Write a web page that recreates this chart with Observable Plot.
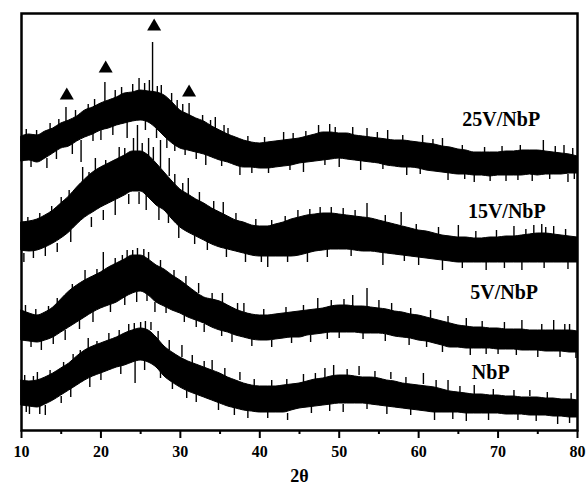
<!DOCTYPE html>
<html><head><meta charset="utf-8">
<script src="https://cdn.jsdelivr.net/npm/d3@7"></script>
<script src="https://cdn.jsdelivr.net/npm/@observablehq/plot@0.6"></script>
<style>body{margin:0;background:#fff}</style>
</head><body><div id="chart"></div>
<script>
// 2θ sample positions (degrees)
const theta = [10,11,12,13,14,15,16,17,18,19,20,21,22,23,24,25,26,27,28,29,30,31,32,33,34,35,36,37,38,39,40,41,42,43,44,45,46,47,48,49,50,51,52,53,54,55,56,57,58,59,60,61,62,63,64,65,66,67,68,69,70,71,72,73,74,75,76,77,78,79,80];

// upper / lower envelope of each (offset) trace, arbitrary intensity units
const s25Upper = [294,296,295,299,302,307,310,314,320,323, 327,330,333,337,338,340,339,338,335,328, 320,316,312,309,304,300,296,293,290,288, 287,288,289,290,291,292,294,296,298,298, 297,297,295,294,293,292,291,290,290,289, 288,287,286,284,283,281,280,278,278,278, 278,279,279,280,280,280,279,278,277,276,274];
const s25Lower = [269,270,268,272,277,282,284,289,293,296, 300,302,305,307,309,310,308,302,294,287, 282,280,278,276,273,270,268,265,263,263, 262,262,263,264,265,267,268,269,270,271, 272,271,270,269,268,267,265,264,263,263, 262,260,259,258,257,256,256,255,255,254, 255,255,255,255,256,255,256,256,256,257,257];
const s15Upper = [208,209,211,215,220,227,234,243,251,258, 263,267,271,275,279,279,275,267,258,249, 241,236,231,227,222,218,214,210,208,205, 204,204,206,208,211,213,215,216,217,217, 216,215,214,213,212,210,208,206,204,202, 200,199,197,195,194,193,193,192,192,193, 193,194,194,195,196,197,197,196,195,194,193];
const s15Lower = [180,179,180,183,187,192,198,206,213,218, 223,227,231,235,239,239,233,225,220,211, 203,198,194,190,186,183,181,179,177,175, 174,174,174,174,174,175,177,179,180,181, 181,181,180,179,179,178,177,176,175,174, 173,172,171,170,169,168,168,168,168,168, 168,168,168,168,168,168,168,168,168,168,168];
const s5Upper = [120,117,115,118,123,131,139,145,150,154, 158,163,167,171,175,175,171,165,161,155, 150,144,138,133,131,129,125,121,118,116, 115,115,116,117,118,119,120,121,122,124, 125,125,124,124,123,122,121,119,118,116, 115,113,111,109,107,105,104,103,103,102, 102,101,101,101,100,100,100,100,100,100,99];
const s5Lower = [90,89,88,90,93,98,103,108,113,118, 122,125,128,133,137,139,135,128,124,120, 117,113,110,107,103,100,98,95,93,91, 90,90,91,92,93,93,95,96,97,98, 98,98,98,97,97,97,96,94,93,92, 90,89,87,85,83,83,82,82,82,82, 81,81,81,80,80,80,79,79,79,78,78];
const sNbPUpper = [50,49,50,53,57,62,67,74,80,84, 87,90,93,97,100,102,100,93,84,78, 73,69,66,63,60,57,53,50,47,45, 44,44,44,45,46,47,49,51,52,54, 55,55,54,53,53,52,50,49,47,46, 45,44,43,41,39,38,37,36,36,35, 35,34,34,33,33,33,32,32,31,31,30];
const sNbPLower = [25,24,23,26,30,35,40,45,50,54, 57,60,63,65,68,70,68,63,54,48, 43,39,36,33,30,27,24,22,20,19, 18,18,18,18,20,22,23,24,25,26, 27,27,27,27,26,25,24,23,22,21, 20,19,18,18,18,18,17,17,17,17, 17,16,16,16,15,15,15,14,14,13,13];

// individual noise spikes: [2θ, from, to]
const spikes25 = [[15.6,300,323],[18.4,312,326],[20.5,322,348],[21.8,328,340],[24.0,332,346],[24.8,335,352],[26.5,335,388],[27.6,332,345],[28.9,325,337],[29.6,318,330],[31.1,312,327],[32.8,306,315],[34.4,300,313],[36.0,292,302],[43.0,288,298],[47.4,294,305],[48.8,296,306],[51.7,294,303],[53.5,292,302],[56.1,290,300],[60.5,286,295],[63.0,283,292],[75.7,278,290],[78.3,275,285],
  [13.2,272,262],[17.5,290,268],[20.0,303,290],[23.3,308,292],[28.3,296,282],[30.6,284,275],[33.2,276,265],[37.5,265,255],[41.1,263,257],[45.5,268,258],[50.0,272,263],[52.7,270,260],[58.5,264,255],[63.7,258,250],[67.0,256,248],[71.0,256,249],[74.3,257,249],[78.8,256,248],
  [10.6,293,301],[11.9,292,300],[13.6,298,307],[14.7,302,311],[16.8,309,320],[19.2,320,331],[22.6,333,343],[25.5,336,347],[26.1,335,350],[27.1,334,344],[30.3,316,326],[33.8,302,310],[35.5,296,305],[38.5,286,294],[40.6,284,293],[44.2,288,297],[45.8,290,299],[49.5,295,303],[54.8,289,298],[58.0,287,295],[61.8,283,291],[65.5,277,285],[68.3,275,283],[70.5,275,284],[72.8,276,285],[77.2,275,284],[79.4,273,282],
  [11.2,273,263],[14.4,280,271],[16.4,287,276],[19.0,299,289],[21.5,305,295],[25.6,312,300],[27.0,305,292],[29.3,290,279],[32.0,281,271],[35.2,273,264],[39.0,266,257],[43.8,268,260],[48.2,273,265],[55.5,270,261],[60.2,265,256],[65.8,259,251],[69.0,257,249],[72.5,258,250],[76.5,259,251],[79.6,260,251]];
const spikes15 = [[13.8,212,224],[16.0,228,240],[17.7,243,263],[19.3,256,272],[22.3,268,283],[24.1,276,292],[24.6,276,305],[26.0,272,292],[27.5,262,290],[28.6,254,272],[31.0,234,252],[35.4,216,228],[44.8,210,220],[47.6,214,223],[50.5,214,222],[53.5,212,227],[57.8,205,218],[65.0,192,205],[72.0,192,204],[74.5,194,205],[75.5,195,206],[77.0,195,204],
  [11.5,182,172],[13.0,184,174],[16.2,200,188],[21.8,232,215],[25.7,240,220],[27.3,226,210],[29.8,212,192],[33.4,192,180],[38.2,180,168],[41.0,176,163],[46.0,180,168],[55.5,180,165],[60.0,175,165],[63.0,172,160],[68.5,170,160],[73.0,168,160],
  [10.8,205,213],[12.3,208,217],[15.0,224,233],[18.5,248,258],[20.6,260,270],[23.0,272,282],[25.2,276,287],[26.6,270,283],[29.3,245,256],[30.3,238,247],[32.4,228,238],[34.2,219,229],[37.0,207,217],[39.5,202,211],[41.5,201,210],[43.2,205,214],[46.3,212,221],[49.0,214,223],[52.0,211,220],[55.8,206,215],[59.7,197,206],[62.5,194,203],[67.2,190,199],[69.8,190,200],[73.5,192,201],[76.0,194,203],[78.5,192,201],
  [10.3,177,168],[14.5,187,178],[18.8,213,203],[20.3,220,210],[23.5,236,226],[24.8,238,226],[28.5,217,207],[31.8,196,186],[35.8,182,173],[40.2,177,168],[43.5,177,168],[48.5,183,173],[51.5,183,174],[58.2,178,169],[65.5,171,162],[70.8,171,162],[75.8,171,162],[78.8,171,161]];
const spikes5 = [[14.5,122,132],[18.0,148,160],[20.3,157,178],[21.8,165,172],[23.3,168,180],[24.0,172,180],[26.0,170,178],[29.2,152,160],[32.3,137,147],[35.3,127,137],[38.0,118,127],[47.3,120,132],[51.7,124,135],[53.5,122,142],[55.0,120,130],[61.5,112,120],[66.0,103,112],[73.0,100,110],[77.0,99,110],[79.0,99,106],
  [12.5,90,80],[15.5,100,90],[19.0,118,108],[24.5,138,128],[26.8,128,118],[30.5,118,108],[33.0,106,98],[36.5,97,88],[41.5,90,83],[46.4,95,88],[50.0,99,92],[55.8,96,89],[58.8,93,85],[63.0,85,78],[66.5,82,75],[70.0,82,76],[75.0,80,73],
  [10.5,117,125],[11.8,113,121],[13.4,115,124],[16.4,136,146],[19.5,151,161],[22.7,165,175],[24.6,172,182],[25.4,172,181],[27.5,160,170],[30.7,144,154],[34.0,128,137],[37.2,118,127],[40.5,112,121],[43.3,114,123],[45.5,116,125],[49.0,121,130],[50.6,122,131],[56.6,118,127],[59.0,113,122],[63.7,104,114],[68.0,100,109],[70.8,99,108],[75.5,97,106],[78.4,97,106],
  [11.2,92,83],[14.0,95,86],[17.3,111,101],[21.2,128,118],[23.0,136,125],[25.8,140,129],[28.2,127,117],[32.0,113,103],[35.2,103,94],[39.0,93,84],[44.0,96,87],[48.5,100,91],[53.0,100,91],[61.0,92,83],[68.5,85,76],[72.3,84,75],[77.8,82,73],[79.8,81,72]];
const spikesNbP = [[12.0,50,58],[16.5,67,76],[18.4,81,92],[21.0,90,97],[23.5,97,106],[25.0,100,108],[26.3,100,108],[30.2,73,85],[34.0,60,70],[37.5,50,58],[45.5,47,56],[48.2,52,62],[49.3,53,65],[52.5,55,64],[56.5,51,58],[60.6,46,57],[63.7,40,50],[67.0,36,45],[74.0,34,40],
  [11.0,24,16],[13.0,25,15],[15.0,34,27],[20.0,58,50],[24.3,69,47],[27.5,60,52],[32.0,37,28],[38.5,21,12],[43.5,17,10],[50.5,26,18],[56.0,24,16],[62.0,19,10],[66.0,17,9],[72.5,17,10],[77.5,14,6],
  [10.4,47,55],[11.5,46,54],[13.6,51,60],[15.3,60,68],[17.4,71,80],[19.5,80,89],[22.3,91,100],[24.2,98,107],[25.6,99,109],[27.2,89,99],[28.6,80,90],[31.5,65,75],[33.0,60,69],[35.6,53,62],[39.3,42,51],[41.5,41,50],[43.4,42,51],[47.0,48,57],[51.0,52,61],[54.5,50,59],[58.4,44,53],[62.2,41,50],[65.2,36,44],[69.4,32,41],[72.0,31,40],[76.2,29,38],[79.2,28,37],
  [10.6,28,18],[12.3,26,16],[16.2,43,33],[18.6,53,43],[22.5,66,56],[25.5,72,60],[29.0,51,41],[30.8,42,32],[34.8,30,20],[36.8,25,15],[41.0,21,12],[46.5,26,17],[48.8,28,19],[53.5,30,21],[59.0,24,15],[64.3,20,11],[68.8,19,10],[74.8,18,9],[79.0,16,7]];

// triangle markers (crystalline reflections)
const markerX = [15.7, 20.6, 26.7, 31.1];
const markerY = [335, 362, 404, 338];

// series labels
const labelText = ["25V/NbP", "15V/NbP", "5V/NbP", "NbP"];
const labelX = [65.5, 66.2, 66.5, 66.7];
const labelY = [305, 213, 132, 52];

// axis ticks
const majorTicks = [10, 20, 30, 40, 50, 60, 70, 80];
const minorTicks = [15, 25, 35, 45, 55, 65, 75];
const xTitle = "2θ";

const series = [
  {name: "25V/NbP", upper: s25Upper, lower: s25Lower, spikes: spikes25},
  {name: "15V/NbP", upper: s15Upper, lower: s15Lower, spikes: spikes15},
  {name: "5V/NbP", upper: s5Upper, lower: s5Lower, spikes: spikes5},
  {name: "NbP", upper: sNbPUpper, lower: sNbPLower, spikes: spikesNbP}
];
const bandRows = series.flatMap(s => theta.map((t, i) => ({series: s.name, t, lo: s.lower[i], hi: s.upper[i]})));
const spikeRows = series.flatMap(s => s.spikes.map(([t, a, b]) => ({series: s.name, t, a, b})));
const markers = markerX.map((x, i) => ({x, y: markerY[i]}));
const labels = labelText.map((text, i) => ({text, x: labelX[i], y: labelY[i]}));

const serif = "'Liberation Serif', 'Times New Roman', Times, serif";

const chart = Plot.plot({
  width: 588, height: 486,
  marginLeft: 21, marginRight: 11, marginTop: 13, marginBottom: 56,
  style: {fontFamily: serif, background: "white", color: "black"},
  x: {domain: [10, 80]},
  y: {domain: [0, 417], axis: null},
  marks: [
    Plot.areaY(bandRows, {x: "t", y1: "lo", y2: "hi", z: "series", curve: "monotone-x", fill: "black", stroke: "black", strokeWidth: 1}),
    Plot.ruleX(spikeRows, {x: "t", y1: "a", y2: "b", stroke: "black", strokeWidth: 1.4}),
    Plot.dot(markers, {x: "x", y: "y", symbol: "triangle", r: 5.2, fill: "black", stroke: "none"}),
    Plot.text(labels, {x: "x", y: "y", text: "text", textAnchor: "start", lineAnchor: "bottom", fontSize: 20, fontWeight: "bold", fill: "black"}),
    Plot.axisX({ticks: majorTicks, tickSize: 8, tickPadding: 7, tickFormat: d => String(d), fontSize: 16, fontWeight: "bold", strokeWidth: 2, label: null}),
    Plot.axisX({ticks: minorTicks, tickSize: 4, tickFormat: () => "", strokeWidth: 2, label: null}),
    Plot.frame({stroke: "black", strokeWidth: 2.5}),
    Plot.text([xTitle], {frameAnchor: "bottom", dy: 51, fontSize: 18, fontWeight: "bold", fill: "black"})
  ]
});
document.getElementById("chart").appendChild(chart);
</script>
</body></html>
